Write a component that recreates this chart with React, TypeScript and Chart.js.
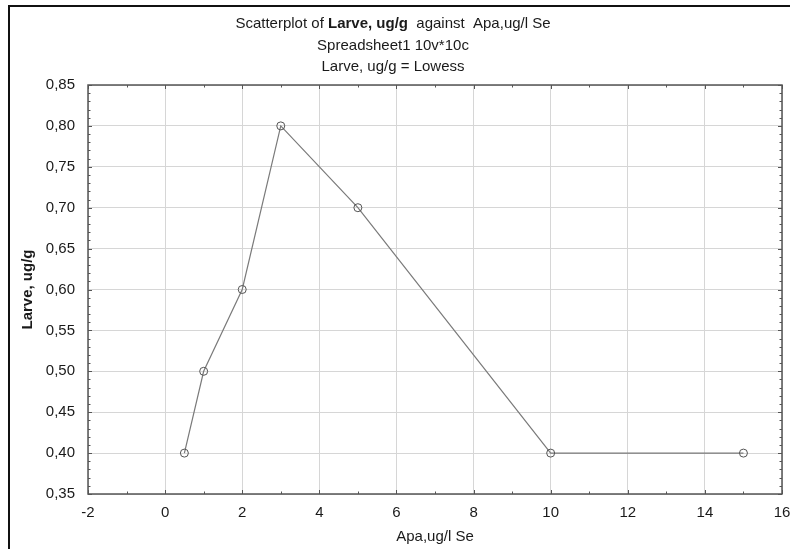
import React, { useEffect, useRef } from "react";
import { Chart, registerables } from "chart.js";

Chart.register(...registerables);

const xValues = [0.5, 1, 2, 3, 5, 10, 15];
const yValues = [0.4, 0.5, 0.6, 0.8, 0.7, 0.4, 0.4];
const xMin = -2;
const xMax = 16;
const xStep = 2;
const yMin = 0.35;
const yMax = 0.85;
const yStep = 0.05;
const titleLine1 = ["Scatterplot of ", "Larve, ug/g", "  against  Apa,ug/l Se"];
const titleLine2 = "Spreadsheet1 10v*10c";
const titleLine3 = "Larve, ug/g = Lowess";
const xAxisTitle = "Apa,ug/l Se";
const yAxisTitle = "Larve, ug/g";

const FONT = "'Liberation Sans', Arial, sans-serif";
const FS = 15;

const decorPlugin = {
  id: "decor",
  beforeDraw(chart: any) {
    const ctx = chart.ctx;
    ctx.save();
    ctx.fillStyle = "#ffffff";
    ctx.fillRect(0, 0, chart.width, chart.height);
    ctx.strokeStyle = "#111";
    ctx.lineWidth = 2;
    ctx.beginPath();
    ctx.moveTo(9, chart.height);
    ctx.lineTo(9, 6);
    ctx.lineTo(chart.width, 6);
    ctx.stroke();
    ctx.restore();
  },
  afterDraw(chart: any) {
    const ctx = chart.ctx;
    const area = chart.chartArea;
    const xs = chart.scales.x;
    const ys = chart.scales.y;
    ctx.save();
    ctx.strokeStyle = "#555";
    ctx.lineWidth = 1.5;
    ctx.strokeRect(area.left, area.top, area.right - area.left, area.bottom - area.top);
    ctx.lineWidth = 1;
    ctx.strokeStyle = "#555";
    ctx.beginPath();
    for (let v = xMin; v <= xMax + 1e-9; v += 1) {
      const px = Math.round(xs.getPixelForValue(v)) + 0.5;
      const major = Math.abs(v % 2) < 1e-9;
      const len = major ? 4 : 2.5;
      ctx.moveTo(px, area.bottom);
      ctx.lineTo(px, area.bottom - len);
      ctx.moveTo(px, area.top);
      ctx.lineTo(px, area.top + len);
    }
    for (let i = 0; i <= 50; i++) {
      const v = yMin + i * 0.01;
      const py = Math.round(ys.getPixelForValue(v)) + 0.5;
      const major = i % 5 === 0;
      const len = major ? 4 : 2.5;
      ctx.moveTo(area.left, py);
      ctx.lineTo(area.left + len, py);
      ctx.moveTo(area.right, py);
      ctx.lineTo(area.right - len, py);
    }
    ctx.stroke();

    ctx.fillStyle = "#1a1a1a";
    ctx.textBaseline = "middle";
    const cx = 393;
    const normal = `${FS}px ${FONT}`;
    const bold = `bold ${FS}px ${FONT}`;
    const fonts = [normal, bold, normal];
    let total = 0;
    const widths = titleLine1.map((t, i) => {
      ctx.font = fonts[i];
      const w = ctx.measureText(t).width;
      total += w;
      return w;
    });
    let x = cx - total / 2;
    ctx.textAlign = "left";
    titleLine1.forEach((t, i) => {
      ctx.font = fonts[i];
      ctx.fillText(t, x, 24);
      x += widths[i];
    });
    ctx.textAlign = "center";
    ctx.font = normal;
    ctx.fillText(titleLine2, cx, 46);
    ctx.fillText(titleLine3, cx, 67);

    ctx.font = normal;
    ctx.fillText(xAxisTitle, (area.left + area.right) / 2, 537);
    ctx.save();
    ctx.translate(28, (area.top + area.bottom) / 2);
    ctx.rotate(-Math.PI / 2);
    ctx.font = bold;
    ctx.fillText(yAxisTitle, 0, 0);
    ctx.restore();
    ctx.restore();
  },
};

export default function App() {
  const ref = useRef<HTMLCanvasElement | null>(null);
  useEffect(() => {
    if (!ref.current) return;
    const chart = new Chart(ref.current, {
      type: "scatter",
      data: {
        datasets: [
          {
            data: xValues.map((x, i) => ({ x, y: yValues[i] })),
            showLine: true,
            borderColor: "#7a7a7a",
            borderWidth: 1.2,
            pointRadius: 4,
            pointBorderWidth: 1,
            pointBorderColor: "#555",
            pointBackgroundColor: "rgba(255,255,255,0)",
            tension: 0,
          },
        ],
      },
      options: {
        animation: false,
        responsive: false,
        devicePixelRatio: 1,
        layout: { padding: { left: 8, top: 85, right: 8, bottom: 0 } },
        plugins: { legend: { display: false }, title: { display: false }, tooltip: { enabled: false } },
        scales: {
          x: {
            type: "linear",
            min: xMin,
            max: xMax,
            ticks: {
              stepSize: xStep,
              color: "#1a1a1a",
              font: { family: FONT, size: FS },
              padding: 10,
              maxRotation: 0,
            },
            grid: { color: "#d6d6d6", drawTicks: false, lineWidth: 1 },
            border: { display: false },
            afterFit: (s: any) => {
              s.height = 55;
              s.paddingLeft = 0;
              s.paddingRight = 0;
            },
          },
          y: {
            type: "linear",
            min: yMin,
            max: yMax,
            ticks: {
              stepSize: yStep,
              color: "#1a1a1a",
              font: { family: FONT, size: FS },
              padding: 13,
              callback: (v: any) => Number(v).toFixed(2).replace(".", ","),
            },
            grid: { color: "#d6d6d6", drawTicks: false, lineWidth: 1 },
            border: { display: false },
            afterFit: (s: any) => {
              s.width = 80;
              s.paddingTop = 0;
              s.paddingBottom = 0;
            },
          },
        },
      },
      plugins: [decorPlugin],
    });
    return () => chart.destroy();
  }, []);
  return (
    <div style={{ position: "absolute", left: 0, top: 0, width: 790, height: 549, background: "#fff" }}>
      <canvas ref={ref} width={790} height={549} style={{ display: "block" }} />
    </div>
  );
}
